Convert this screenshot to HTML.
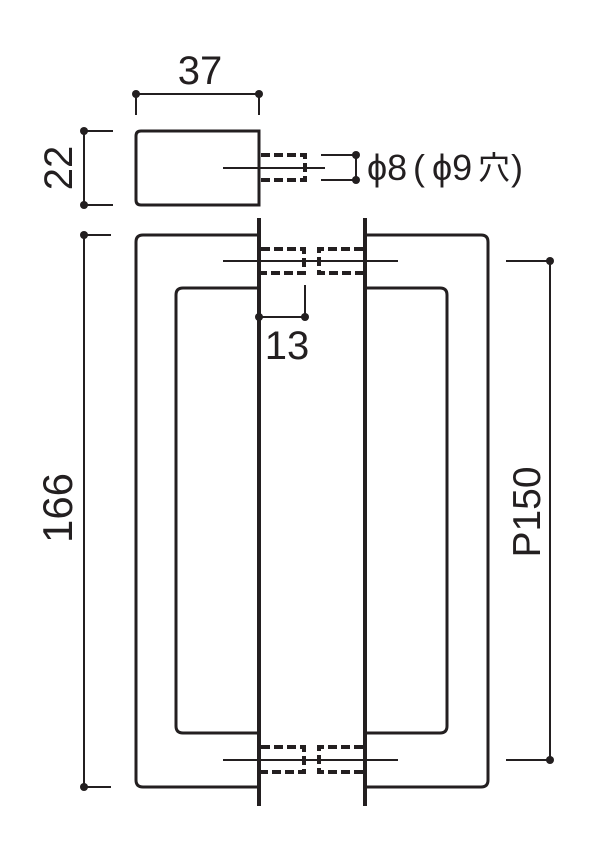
<!DOCTYPE html>
<html><head><meta charset="utf-8"><style>
html,body{margin:0;padding:0;background:#fff;width:604px;height:850px;overflow:hidden}
svg{display:block}
text{font-family:"Liberation Sans","Noto Sans CJK JP",sans-serif;fill:#231f20}
</style></head><body>
<svg width="604" height="850" viewBox="0 0 604 850" xmlns="http://www.w3.org/2000/svg">
<g fill="none" stroke="#231f20">
<path d="M259,131 H141 Q136,131 136,136 V200 Q136,205 141,205 H259 Z" stroke-width="3"/>
<path d="M259,235 H143 Q136,235 136,242 V780 Q136,787 143,787 H259" stroke-width="3"/>
<path d="M259,288 H183 Q176,288 176,295 V726 Q176,733 183,733 H259" stroke-width="3"/>
<path d="M366,235 H481 Q488,235 488,242 V780 Q488,787 481,787 H366" stroke-width="3"/>
<path d="M366,288 H440 Q447,288 447,295 V726 Q447,733 440,733 H366" stroke-width="3"/>
<line x1="259" y1="218" x2="259" y2="806" stroke-width="4"/>
<line x1="365" y1="218" x2="365" y2="806" stroke-width="4"/>
<g stroke-width="4" stroke-dasharray="9,4">
<path d="M261,155 H305 V180 H261"/>
<path d="M261,249 H304 V273 H261"/>
<path d="M363,249 H319 V273 H363"/>
<path d="M261,747 H304 V772 H261"/>
<path d="M363,747 H319 V772 H363"/>
</g>
<g stroke-width="2">
<line x1="223" y1="168" x2="325" y2="168"/>
<line x1="223" y1="261" x2="398" y2="261"/>
<line x1="223" y1="760" x2="398" y2="760"/>
</g>
<g stroke-width="2">
<line x1="136" y1="94" x2="259" y2="94"/>
<line x1="136" y1="94" x2="136" y2="115"/>
<line x1="259" y1="94" x2="259" y2="115"/>
<line x1="84" y1="131" x2="84" y2="205"/>
<line x1="84" y1="131" x2="113" y2="131"/>
<line x1="84" y1="205" x2="113" y2="205"/>
<line x1="84" y1="235" x2="84" y2="787"/>
<line x1="84" y1="235" x2="111" y2="235"/>
<line x1="84" y1="787" x2="111" y2="787"/>
<line x1="550" y1="261" x2="550" y2="760"/>
<line x1="506" y1="261" x2="550" y2="261"/>
<line x1="506" y1="760" x2="550" y2="760"/>
<line x1="321" y1="155" x2="356" y2="155"/>
<line x1="321" y1="180" x2="356" y2="180"/>
<line x1="356" y1="155" x2="356" y2="180"/>
<line x1="259" y1="317" x2="305" y2="317"/>
<line x1="305" y1="285" x2="305" y2="317"/>
</g>
</g>
<g fill="#231f20">
<circle cx="136" cy="94" r="4"/><circle cx="259" cy="94" r="4"/>
<circle cx="84" cy="131" r="4"/><circle cx="84" cy="205" r="4"/>
<circle cx="84" cy="235" r="4"/><circle cx="84" cy="787" r="4"/>
<circle cx="550" cy="261" r="4"/><circle cx="550" cy="760" r="4"/>
<circle cx="356" cy="155" r="4"/><circle cx="356" cy="180" r="4"/>
<circle cx="259" cy="317" r="4"/><circle cx="305" cy="317" r="4"/>
</g>
<text x="200" y="84" font-size="40" text-anchor="middle">37</text>
<text x="287" y="359" font-size="40" text-anchor="middle">13</text>
<text transform="translate(72,168) rotate(-90)" font-size="40" text-anchor="middle">22</text>
<text transform="translate(72,508) rotate(-90)" font-size="42" text-anchor="middle">166</text>
<text transform="translate(540,512) rotate(-90)" font-size="39" text-anchor="middle">P150</text>
<text x="367" y="180" font-size="36">ϕ8</text>
<text x="413" y="180" font-size="36">(</text>
<text x="432" y="180" font-size="36">ϕ9</text>
<text x="478" y="179" font-size="32">穴</text>
<text x="511" y="180" font-size="36">)</text>
</svg>
</body></html>
